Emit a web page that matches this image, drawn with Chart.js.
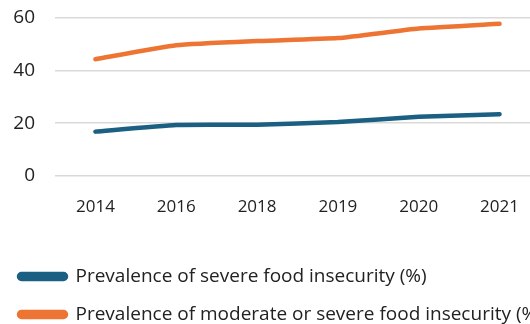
<!DOCTYPE html>
<html>
<head>
<meta charset="utf-8">
<script src="https://cdn.jsdelivr.net/npm/chart.js@4"></script>
<style>
  html, body { margin: 0; padding: 0; background: #fff; overflow: hidden; }
  #wrap { width: 540px; height: 324px; }
</style>
</head>
<body>
<div id="wrap"><canvas id="foodChart"></canvas></div>
<script>
const years = ['2014', '2016', '2018', '2019', '2020', '2021'];
const severe = [16.8, 19.3, 19.4, 20.4, 22.4, 23.4];
const moderateOrSevere = [44.2, 49.5, 51.1, 52.2, 55.8, 57.6];

const blue = '#1b5f82';
const orange = '#ee7433';

const data = {
  labels: years,
  datasets: [
    {
      label: 'Prevalence of severe food insecurity (%)',
      data: severe,
      borderColor: blue,
      backgroundColor: blue,
      borderWidth: 4.5,
      borderCapStyle: 'round',
      pointRadius: 0,
      tension: 0.15
    },
    {
      label: 'Prevalence of moderate or severe food insecurity (%)',
      data: moderateOrSevere,
      borderColor: orange,
      backgroundColor: orange,
      borderWidth: 4.5,
      borderCapStyle: 'round',
      pointRadius: 0,
      tension: 0.15
    }
  ]
};

const config = {
  type: 'line',
  data: data,
  options: {
    responsive: true,
    maintainAspectRatio: false,
    animation: false,
    layout: { padding: { left: 0, top: 0, right: 0, bottom: -10 } },
    plugins: {
      legend: {
        position: 'bottom',
        align: 'start',
        labels: {
          boxWidth: 47,
          boxHeight: 5,
          useBorderRadius: true,
          borderRadius: 2.5,
          padding: 19,
          color: '#222',
          font: { family: 'Open Sans', size: 19 }
        }
      },
      tooltip: { enabled: false }
    },
    scales: {
      x: {
        offset: true,
        afterFit: (axis) => { axis.height = 72; },
        grid: { display: false, drawTicks: false },
        border: { display: false },
        ticks: {
          color: '#222',
          padding: 21,
          font: { family: 'Open Sans', size: 17 }
        }
      },
      y: {
        min: 0,
        max: 60,
        afterFit: (axis) => {
          axis.width = 55;
          // the 20px label gap should not push the plot down
          axis.paddingTop = 17.5;
          axis.paddingBottom = 12;
        },
        ticks: {
          stepSize: 20,
          color: '#222',
          padding: 20,
          font: { family: 'Open Sans', size: 19 }
        },
        grid: { color: '#d9d9d9', lineWidth: 1.5, drawTicks: false },
        border: { display: false }
      }
    }
  }
};

const ctx = document.getElementById('foodChart').getContext('2d');
const foodChart = new Chart(ctx, config);
</script>
</body>
</html>
